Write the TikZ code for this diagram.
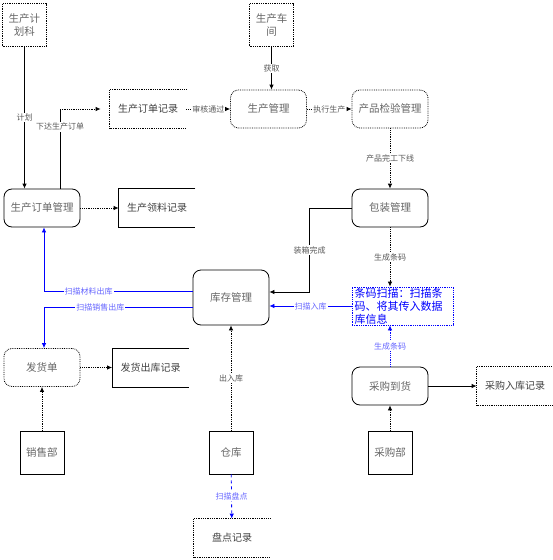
\documentclass[tikz,border=0pt]{standalone}
\usepackage{fontspec}
\setmainfont{Noto Sans CJK SC}
\usetikzlibrary{arrows.meta}

\tikzset{
  proc/.style={draw, rounded corners=8pt, minimum width=76pt, minimum height=38pt,
    inner sep=1pt, text=black!60, font=\fontsize{10.5}{12}\selectfont},
  ext/.style={draw, minimum width=44pt, minimum height=43pt, inner sep=1pt,
    align=center, text=black!60, font=\fontsize{10.5}{13}\selectfont},
  store/.style={minimum width=76pt, minimum height=38pt, inner sep=1pt,
    text=black!75, font=\fontsize{10}{12}\selectfont},
  lbl/.style={fill=white, inner sep=1pt, text=black!65, font=\fontsize{8}{9}\selectfont},
  bluelbl/.style={lbl, text=blue!60},
  flow/.style={-{Latex[length=5pt,width=4.5pt]}, line width=0.8pt},
}

\begin{document}
\begin{tikzpicture}[x=1pt, y=-1pt, line width=0.8pt]
  \useasboundingbox (0,0) rectangle (553,560);

  % sources and sinks
  \node[ext, densely dotted] (plan) at (24.5,25) {生产计\\划科};
  \node[ext, densely dotted] (shop) at (271.5,25) {生产车\\间};
  \node[ext] (sales) at (42,452.5) {销售部};
  \node[ext] (ware) at (231,452.5) {仓库};
  \node[ext] (buydept) at (390,452.5) {采购部};

  % processes
  \node[proc, densely dotted] (prod) at (268.5,109) {生产管理};
  \node[proc, densely dotted] (insp) at (390,109) {产品检验管理};
  \node[proc] (ordmgr) at (42,208) {生产订单管理};
  \node[proc] (pack) at (390,208) {包装管理};
  \node[proc, minimum height=55pt] (stock) at (231,297.5) {库存管理};
  \node[proc, densely dotted] (ship) at (42,367.5) {发货单};
  \node[proc] (buy) at (390,386) {采购到货};
  \node[draw=blue, densely dotted, text=blue, minimum width=101pt, minimum height=38pt,
    text width=96pt, inner xsep=2pt, inner ysep=0pt, align=left,
    font=\fontsize{11}{13}\selectfont] (code) at (402.5,306)
    {条码扫描：扫描条\\码、将其传入数据\\库信息};

  % data stores
  \node[store] (ordrec) at (148,109) {生产订单记录};
  \node[store] (pickrec) at (157,208) {生产领料记录};
  \node[store] (shiprec) at (150.5,367.5) {发货出库记录};
  \node[store] (buyrec) at (515,386) {采购入库记录};
  \node[store] (count) at (232,538) {盘点记录};
  \foreach \s/\st in {ordrec/densely dotted, pickrec/solid, shiprec/solid,
                      buyrec/densely dotted, count/densely dotted}
    \draw[\st] (\s.north east) -- (\s.north west) -- (\s.south west) -- (\s.south east);

  % flows
  \draw[flow] (plan.south) -- (plan.south |- ordmgr.north) node[lbl, midway] {计划};
  \coordinate (ordup) at ([xshift=18pt]ordmgr.north |- ordrec.west);
  \draw ([xshift=18pt]ordmgr.north) -- (ordup) node[lbl, pos=0.775] {下达生产订单};
  \draw[flow, densely dotted, shorten >=9pt] (ordup) -- (ordrec.west);
  \draw[flow] (shop.south) -- (shop.south |- prod.north) node[lbl, midway] {获取};
  \draw[flow, densely dotted] (ordrec.east) -- (prod.west) node[lbl, midway] {审核通过};
  \draw[flow, densely dotted] (prod) -- (insp) node[lbl, midway] {执行生产};
  \draw[flow, densely dotted] (insp) -- (pack) node[lbl, midway] {产品完工下线};
  \draw[flow, densely dotted] (ordmgr) -- (pickrec.west);
  \draw[flow] (pack.west) -- ++(-42,0) |- ([yshift=5.5pt]stock.east)
    node[lbl, pos=0.25] {装箱完成};
  \draw[flow, densely dotted] (pack.south) -- (pack.south |- code.north)
    node[lbl, midway] {生成条码};
  \draw[flow, blue] (code.west) -- (code.west -| stock.east) node[bluelbl, midway] {扫描入库};
  \draw[flow, blue, densely dotted] (buy.north) -- (buy.north |- code.south)
    node[bluelbl, midway] {生成条码};
  \draw[flow, blue] ([yshift=6.5pt]stock.west) -| ([xshift=2pt]ordmgr.south)
    node[bluelbl, pos=0.35] {扫描材料出库};
  \draw[flow, blue] ([yshift=-9.5pt]stock.west) -| ([xshift=2pt]ship.north)
    node[bluelbl, pos=0.31] {扫描销售出库};
  \draw[flow, densely dotted] (ship) -- (shiprec.west);
  \draw[flow, densely dotted] (sales) -- (ship);
  \draw[flow, densely dotted] (ware) -- (stock) node[lbl, midway] {出入库};
  \draw[flow, densely dotted] (buydept) -- (buy);
  \draw[flow] (buy) -- (buyrec.west);
  \draw[flow, blue, dashed] (ware) -- (count) node[bluelbl, midway] {扫描盘点};
\end{tikzpicture}
\end{document}
